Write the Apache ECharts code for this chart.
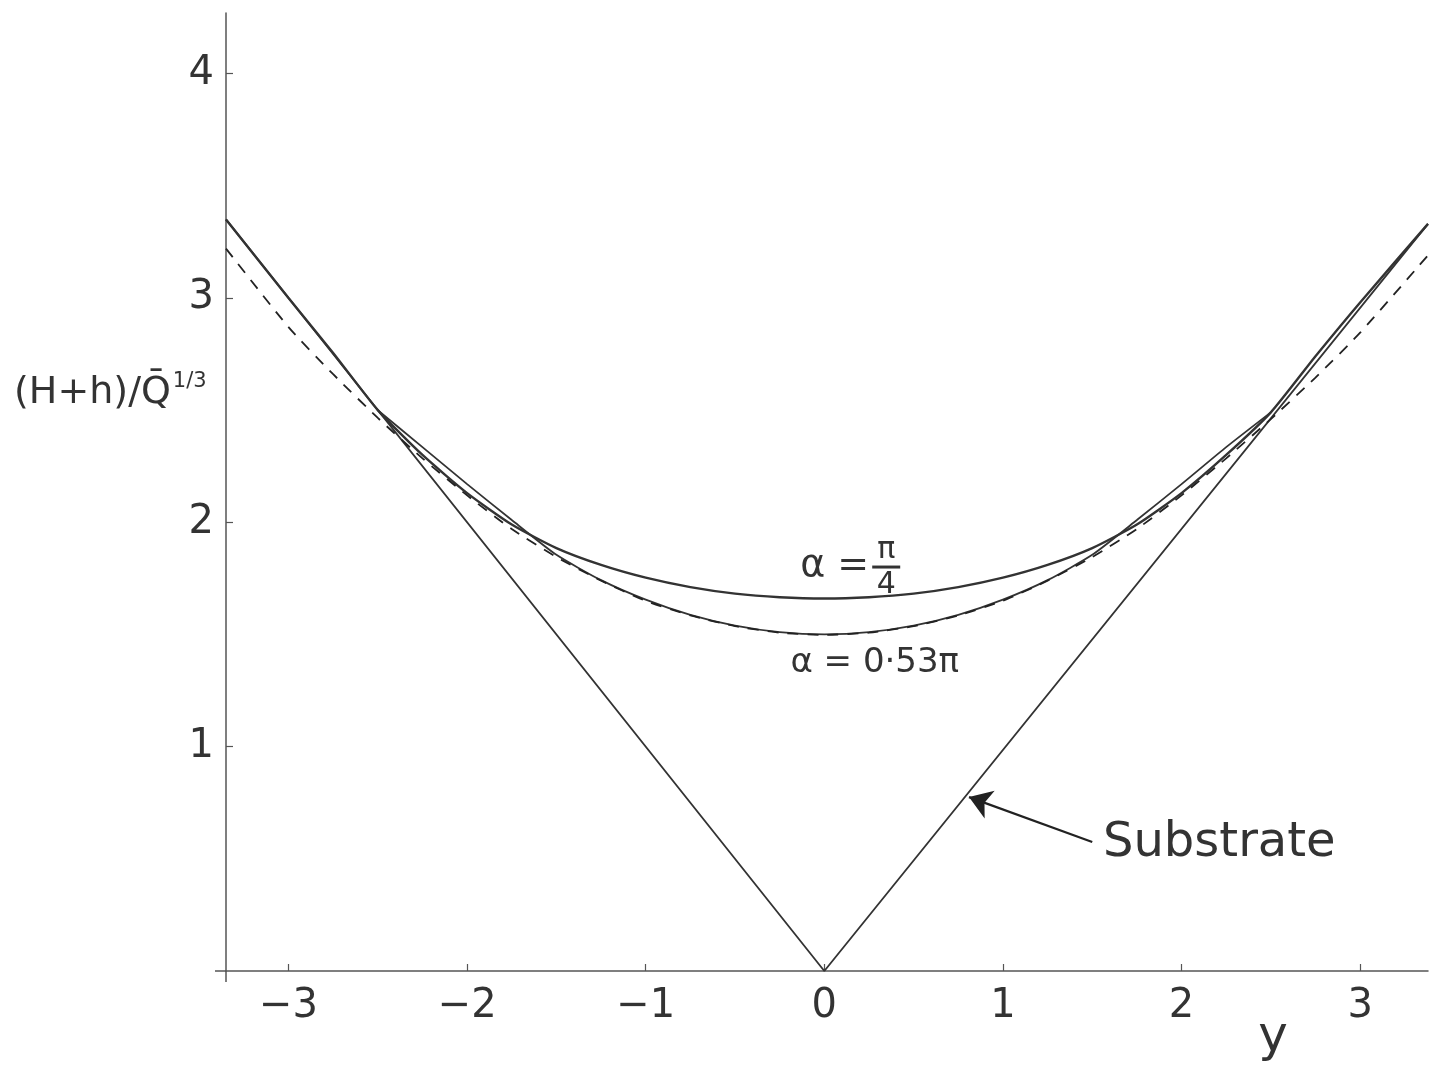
<!DOCTYPE html>
<html>
<head>
<meta charset="utf-8">
<title>Film profile over a V-groove substrate</title>
<script src="https://cdn.jsdelivr.net/npm/echarts@6/dist/echarts.min.js"></script>
<style>
  html, body { margin: 0; padding: 0; background: #ffffff; }
  #chart { width: 1439px; height: 1067px; }
</style>
</head>
<body>
<div id="chart"></div>
<script>
// Horizontal coordinate y (across the groove)
const xTicks = [-3, -2, -1, 0, 1, 2, 3];
const yTicks = [1, 2, 3, 4];

// Substrate: V-groove H = |y|
const substrateX = [-3.35, 0, 3.38];
const substrateY = [3.35, 0, 3.33];

// Free surface (H+h)/Q^(1/3) for alpha = pi/4 (joins the substrate beyond the contact line)
const quarterPiX = [-3.35, -3.0, -2.75, -2.5, -2.25, -2.0, -1.75, -1.5, -1.25, -1.0, -0.75, -0.5, -0.25, 0,
                    0.25, 0.5, 0.75, 1.0, 1.25, 1.5, 1.75, 2.0, 2.25, 2.5, 2.75, 3.0, 3.38];
const quarterPiY = [3.35, 3.0, 2.755, 2.50, 2.30, 2.13, 1.99, 1.885, 1.81, 1.753, 1.711, 1.682, 1.666, 1.66,
                    1.666, 1.682, 1.711, 1.753, 1.81, 1.885, 1.99, 2.13, 2.30, 2.49, 2.74, 2.98, 3.33];

// Free surface for alpha = 0.53 pi
const pointFiveThreeX = [-2.5, -2.25, -2.0, -1.75, -1.5, -1.25, -1.0, -0.75, -0.5, -0.25, 0,
                         0.25, 0.5, 0.75, 1.0, 1.25, 1.5, 1.75, 2.0, 2.25, 2.5];
const pointFiveThreeY = [2.50, 2.335, 2.17, 2.01, 1.855, 1.742, 1.655, 1.587, 1.539, 1.51, 1.50,
                         1.51, 1.539, 1.587, 1.655, 1.742, 1.855, 2.01, 2.17, 2.335, 2.49];

// Approximate profile (dashed)
const approxX = [-3.35, -3.0, -2.75, -2.5, -2.25, -2.0, -1.75, -1.5, -1.25, -1.0, -0.75, -0.5, -0.25, 0,
                 0.25, 0.5, 0.75, 1.0, 1.25, 1.5, 1.75, 2.0, 2.25, 2.5, 2.75, 3.0, 3.38];
const approxY = [3.22, 2.87, 2.66, 2.465, 2.285, 2.12, 1.97, 1.845, 1.74, 1.65, 1.585, 1.537, 1.508, 1.498,
                 1.508, 1.537, 1.585, 1.65, 1.74, 1.845, 1.97, 2.12, 2.285, 2.46, 2.645, 2.845, 3.19];

// Arrow pointing at the substrate: [tail, head]
const arrowFrom = [1.5, 0.575];
const arrowTo = [0.81, 0.775];

const pairs = (xs, ys) => xs.map((x, i) => [x, ys[i]]);

const INK = '#333333';
const TICK_FONT = '"DejaVu Sans", sans-serif';
const HAND_FONT = '"DejaVu Sans", sans-serif';

const chart = echarts.init(document.getElementById('chart'), null, { renderer: 'canvas' });

const minusFmt = v => (v < 0 ? '\u2212' + Math.abs(v) : String(v));

chart.setOption({
  animation: false,
  backgroundColor: '#ffffff',
  grid: { left: 226, right: 11, top: 13, bottom: 96, containLabel: false },
  xAxis: {
    type: 'value',
    min: -3.35,
    max: 3.38,
    axisLine: { show: true, onZero: false, lineStyle: { color: '#555555', width: 1.5 } },
    axisTick: { show: true, inside: true, length: 7, customValues: xTicks, lineStyle: { color: '#555555', width: 1.2 } },
    axisLabel: { show: true, customValues: xTicks, formatter: minusFmt, margin: 16,
                 fontFamily: TICK_FONT, fontSize: 40, color: '#333333' },
    splitLine: { show: false }
  },
  yAxis: {
    type: 'value',
    min: 0,
    max: 4.27,
    axisLine: { show: true, onZero: false, lineStyle: { color: '#555555', width: 1.5 } },
    axisTick: { show: true, inside: true, length: 7, customValues: yTicks, lineStyle: { color: '#555555', width: 1.2 } },
    axisLabel: { show: true, customValues: yTicks, margin: 12,
                 fontFamily: TICK_FONT, fontSize: 40, color: '#333333' },
    splitLine: { show: false }
  },
  series: [
    {
      name: 'Substrate', type: 'line', data: pairs(substrateX, substrateY),
      showSymbol: false, lineStyle: { color: INK, width: 1.8 }, z: 2
    },
    {
      name: 'alpha = pi/4', type: 'line', data: pairs(quarterPiX, quarterPiY),
      showSymbol: false, smooth: 0.2, lineStyle: { color: INK, width: 2.4 }, z: 3
    },
    {
      name: 'alpha = 0.53 pi', type: 'line', data: pairs(pointFiveThreeX, pointFiveThreeY),
      showSymbol: false, smooth: 0.2, lineStyle: { color: INK, width: 1.8 }, z: 3
    },
    {
      name: 'approximation', type: 'line', data: pairs(approxX, approxY),
      showSymbol: false, smooth: 0.2, lineStyle: { color: '#222222', width: 1.8, type: [11, 9] }, z: 4
    },
    {
      name: 'arrow', type: 'lines', coordinateSystem: 'cartesian2d',
      symbol: ['none', 'arrow'], symbolSize: [0, 22],
      lineStyle: { color: '#222222', width: 2.2, opacity: 1 },
      data: [{ coords: [arrowFrom, arrowTo] }], z: 5
    }
  ]
});

// Annotations placed in data coordinates
const px = (x, y) => chart.convertToPixel({ gridIndex: 0 }, [x, y]);

const origin = px(-3.35, 0);
const alphaQ = px(-0.135, 1.805);
const alphaP = px(-0.19, 1.37);
const subLabel = px(1.56, 0.57);
const yName = px(2.43, -0.30);
const hName = [14, 392];

chart.setOption({
  graphic: [
    // short overshoot of both axes at the corner
    { type: 'line', shape: { x1: origin[0] - 11, y1: origin[1], x2: origin[0], y2: origin[1] },
      style: { stroke: '#555555', lineWidth: 1.5 } },
    { type: 'line', shape: { x1: origin[0], y1: origin[1], x2: origin[0], y2: origin[1] + 11 },
      style: { stroke: '#555555', lineWidth: 1.5 } },
    // alpha = pi/4 with stacked fraction
    { type: 'text', x: alphaQ[0], y: alphaQ[1],
      style: { text: '\u03b1 =', fontFamily: HAND_FONT, fontSize: 38, fill: INK, textVerticalAlign: 'middle' } },
    { type: 'text', x: alphaQ[0] + 86, y: alphaQ[1] - 16,
      style: { text: '\u03c0', fontFamily: HAND_FONT, fontSize: 30, fill: INK, textAlign: 'center', textVerticalAlign: 'middle' } },
    { type: 'line', shape: { x1: alphaQ[0] + 72, y1: alphaQ[1] + 1, x2: alphaQ[0] + 100, y2: alphaQ[1] + 1 },
      style: { stroke: INK, lineWidth: 3 } },
    { type: 'text', x: alphaQ[0] + 86, y: alphaQ[1] + 19,
      style: { text: '4', fontFamily: HAND_FONT, fontSize: 30, fill: INK, textAlign: 'center', textVerticalAlign: 'middle' } },
    // alpha = 0.53 pi
    { type: 'text', x: alphaP[0], y: alphaP[1],
      style: { text: '\u03b1 = 0\u00b753\u03c0', fontFamily: HAND_FONT, fontSize: 34, fill: INK, textVerticalAlign: 'middle' } },
    // Substrate label
    { type: 'text', x: subLabel[0], y: subLabel[1],
      style: { text: 'Substrate', fontFamily: HAND_FONT, fontSize: 48, fill: INK, textVerticalAlign: 'middle' } },
    // horizontal axis name
    { type: 'text', x: yName[0], y: yName[1],
      style: { text: 'y', fontFamily: HAND_FONT, fontSize: 50, fill: INK, textVerticalAlign: 'middle' } },
    // vertical axis name
    { type: 'text', x: hName[0], y: hName[1],
      style: {
        text: '{m|(H+h)/Q\u0304}{s|1/3}',
        textVerticalAlign: 'middle',
        rich: {
          m: { fontFamily: HAND_FONT, fontSize: 38, fill: INK, verticalAlign: 'bottom' },
          s: { fontFamily: HAND_FONT, fontSize: 21, fill: INK, verticalAlign: 'top', padding: [0, 0, 20, 2] }
        }
      } }
  ]
});
</script>
</body>
</html>
